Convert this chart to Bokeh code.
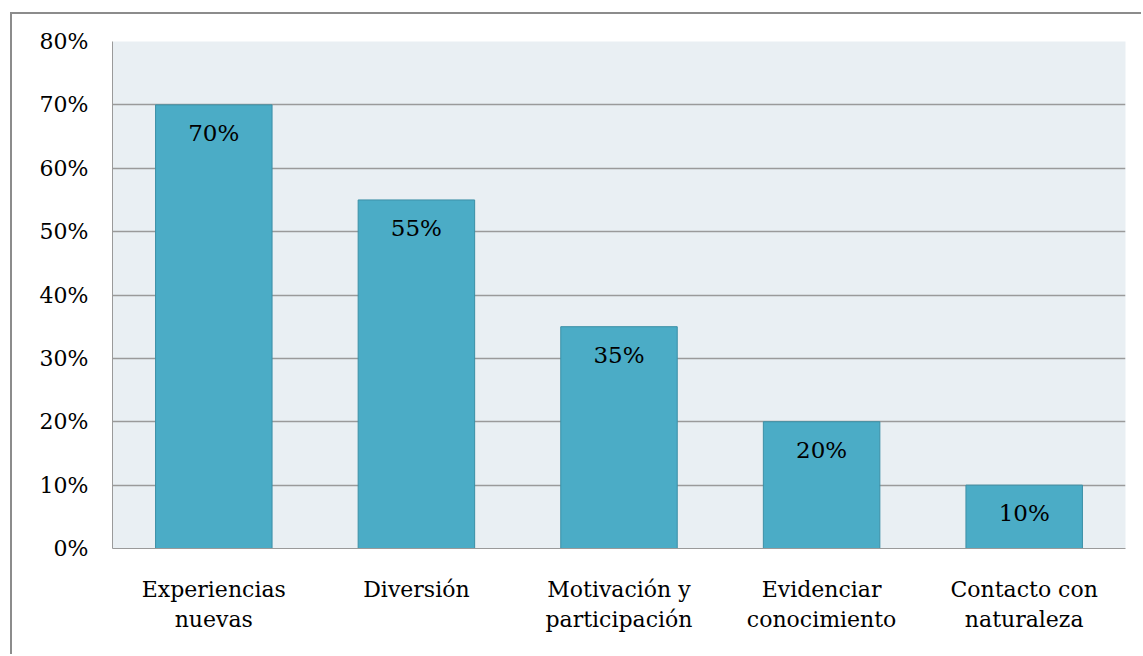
from bokeh.plotting import figure
from bokeh.models import ColumnDataSource, FactorRange, NumeralTickFormatter, FixedTicker
from bokeh.core.properties import value
from bokeh.embed import file_html
from bokeh.resources import INLINE

# Data
categories = ["Experiencias\nnuevas", "Diversión", "Motivación y\nparticipación",
              "Evidenciar\nconocimiento", "Contacto con\nnaturaleza"]
percentages = [0.70, 0.55, 0.35, 0.20, 0.10]
bar_labels = ["70%", "55%", "35%", "20%", "10%"]
y_ticks = [0.0, 0.1, 0.2, 0.3, 0.4, 0.5, 0.6, 0.7, 0.8]

FONT = "DejaVu Serif"
SIZE = "22px"

source = ColumnDataSource(dict(cat=categories, val=percentages, lab=bar_labels))

p = figure(
    x_range=FactorRange(*categories, range_padding=0.0),
    y_range=(0, 0.8),
    width=1131, height=642,
    output_backend="svg",
    toolbar_location=None,
    min_border_left=100, min_border_right=18,
    min_border_top=27, min_border_bottom=108,
    background_fill_color="#E9EFF3",
    border_fill_color="white",
)
p.margin = (12, 0, 0, 10)
p.styles = {"border-left": "2px solid #8C8C8C", "border-top": "2px solid #8C8C8C"}
p.outline_line_color = None

p.vbar(x="cat", top="val", width=0.575, source=source,
       fill_color="#4BACC6", line_color="#3B8FA6", line_width=1)

p.text(x="cat", y="val", text="lab", source=source,
       text_align="center", text_baseline="middle", y_offset=28,
       text_font=value(FONT), text_font_size="23px", text_color="black")

# Axes
p.yaxis.ticker = FixedTicker(ticks=y_ticks)
p.yaxis.formatter = NumeralTickFormatter(format="0%")
p.yaxis.major_label_text_font = FONT
p.yaxis.major_label_text_font_size = SIZE
p.yaxis.major_label_text_color = "black"
p.yaxis.major_label_standoff = 18
p.yaxis.major_tick_line_color = None
p.yaxis.minor_tick_line_color = None
p.yaxis.axis_line_color = "#9A9A9A"

p.xaxis.major_label_text_font = FONT
p.xaxis.major_label_text_font_size = SIZE
p.xaxis.major_label_text_color = "black"
p.xaxis.major_label_text_line_height = 1.2
p.xaxis.major_label_standoff = 22
p.xaxis.major_tick_line_color = None
p.xaxis.axis_line_color = "#9A9A9A"

p.xgrid.grid_line_color = None
p.ygrid.grid_line_color = "#9A9A9A"
p.ygrid.grid_line_width = 1.5

open("out.html", "w").write(file_html(p, INLINE))
